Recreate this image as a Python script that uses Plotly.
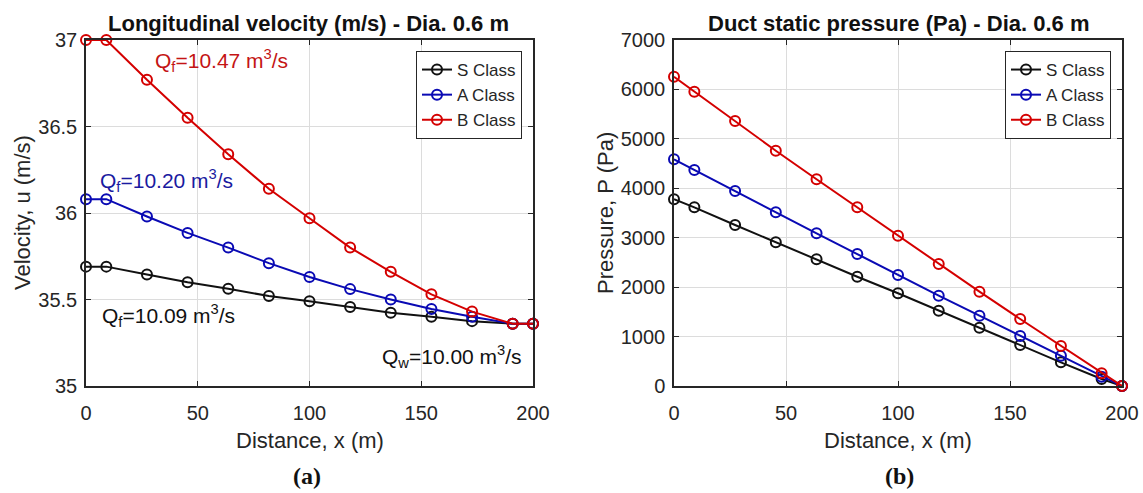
import plotly.graph_objects as go

# ---------------- data ----------------
distance = [0, 9.09, 27.27, 45.45, 63.64, 81.82, 100, 118.18, 136.36, 154.55, 172.73, 190.91, 200]

vel_S = [35.69, 35.69, 35.645, 35.60, 35.562, 35.52, 35.49, 35.456, 35.423, 35.40, 35.375, 35.36, 35.36]
vel_A = [36.08, 36.08, 35.98, 35.885, 35.80, 35.71, 35.63, 35.56, 35.50, 35.445, 35.40, 35.36, 35.36]
vel_B = [37.0, 37.0, 36.77, 36.55, 36.34, 36.14, 35.97, 35.80, 35.66, 35.53, 35.43, 35.36, 35.36]

pres_S = [3780, 3615, 3257, 2907, 2563, 2211, 1876, 1524, 1180, 829, 479, 142, 0]
pres_A = [4586, 4370, 3945, 3514, 3089, 2670, 2246, 1827, 1422, 1012, 614, 189, 0]
pres_B = [6257, 5954, 5361, 4760, 4182, 3615, 3041, 2468, 1908, 1355, 809, 257, 0]

series_names = ["S Class", "A Class", "B Class"]
series_colors = ["#111111", "#0a0ab4", "#d40000"]

titles = ["Longitudinal velocity (m/s) - Dia. 0.6 m", "Duct static pressure (Pa) - Dia. 0.6 m"]
x_title = "Distance, x (m)"
y_titles = ["Velocity, u (m/s)", "Pressure, P (Pa)"]
panel_labels = ["(a)", "(b)"]

ann_text = ["Q<sub>f</sub>=10.47 m<sup>3</sup>/s", "Q<sub>f</sub>=10.20 m<sup>3</sup>/s",
            "Q<sub>f</sub>=10.09 m<sup>3</sup>/s", "Q<sub>w</sub>=10.00 m<sup>3</sup>/s"]

# ---------------- figure ----------------
W, H = 1143, 493
FONT = "Arial, Liberation Sans, sans-serif"
AXC = "#262626"

fig = go.Figure()

vel = [vel_S, vel_A, vel_B]
pres = [pres_S, pres_A, pres_B]
for i in range(3):
    fig.add_trace(go.Scatter(
        x=distance, y=vel[i], name=series_names[i], mode="lines+markers",
        line=dict(color=series_colors[i], width=2),
        marker=dict(symbol="circle-open", size=10, color=series_colors[i], line=dict(width=2)),
        xaxis="x", yaxis="y", legend="legend", cliponaxis=False))
for i in range(3):
    fig.add_trace(go.Scatter(
        x=distance, y=pres[i], name=series_names[i], mode="lines+markers",
        line=dict(color=series_colors[i], width=2),
        marker=dict(symbol="circle-open", size=10, color=series_colors[i], line=dict(width=2)),
        xaxis="x2", yaxis="y2", legend="legend2", cliponaxis=False))


def px(v):
    return v / W


def py(v):
    return 1 - v / H


axis_common = dict(
    showline=True, linecolor=AXC, linewidth=1.5, mirror="ticks",
    ticks="inside", ticklen=5, tickcolor=AXC, tickwidth=1,
    showgrid=True, gridcolor="#dcdcdc", gridwidth=1, zeroline=False,
    automargin=False,
    tickfont=dict(family=FONT, size=20, color=AXC),
)

ydom = [py(386), py(40)]
legend_common = dict(xanchor="right", yanchor="top",
                     bgcolor="white", bordercolor=AXC, borderwidth=1,
                     font=dict(family=FONT, size=17, color=AXC), itemwidth=30,
                     tracegroupgap=0)
fig.update_layout(
    width=W, height=H, autosize=False,
    margin=dict(l=0, r=0, t=0, b=0, autoexpand=False),
    paper_bgcolor="white", plot_bgcolor="white",
    font=dict(family=FONT, color=AXC),
    xaxis=dict(domain=[px(86), px(533)], range=[0, 200], dtick=50, anchor="y",
               ticklabelstandoff=8, **axis_common),
    yaxis=dict(domain=ydom, range=[35, 37], dtick=0.5, anchor="x",
               ticklabelstandoff=3, **axis_common),
    xaxis2=dict(domain=[px(674), px(1122)], range=[0, 200], dtick=50, anchor="y2",
                ticklabelstandoff=8, **axis_common),
    yaxis2=dict(domain=ydom, range=[0, 7000], dtick=1000, anchor="x2",
                ticklabelstandoff=3, **axis_common),
    legend=dict(x=px(522), y=py(51), **legend_common),
    legend2=dict(x=px(1111), y=py(51), **legend_common),
    showlegend=True,
)

annotations = []
# titles
for cx, t in zip([308, 898], titles):
    annotations.append(dict(text="<b>" + t + "</b>", x=px(cx), y=py(23), xref="paper", yref="paper",
                            xanchor="center", yanchor="middle", showarrow=False,
                            font=dict(family=FONT, size=22, color="#111111")))
# x titles
for cx in [310, 898]:
    annotations.append(dict(text=x_title, x=px(cx), y=py(440), xref="paper", yref="paper",
                            xanchor="center", yanchor="middle", showarrow=False,
                            font=dict(family=FONT, size=22, color=AXC)))
# y titles
for cx, t in zip([22, 605], y_titles):
    annotations.append(dict(text=t, x=px(cx), y=py(213), xref="paper", yref="paper",
                            xanchor="center", yanchor="middle", showarrow=False, textangle=-90,
                            font=dict(family=FONT, size=22, color=AXC)))
# panel labels
for cx, t in zip([307, 899], panel_labels):
    annotations.append(dict(text="<b>" + t + "</b>", x=px(cx), y=py(476), xref="paper", yref="paper",
                            xanchor="center", yanchor="middle", showarrow=False,
                            font=dict(family="Liberation Serif, Times New Roman, serif", size=24, color="#111111")))
# flow annotations (data coordinates of left panel)
annotations.append(dict(text=ann_text[0], x=30, y=36.88, xref="x", yref="y", xanchor="left",
                        yanchor="middle", showarrow=False, font=dict(family=FONT, size=21, color="#c41414")))
annotations.append(dict(text=ann_text[1], x=5.4, y=36.19, xref="x", yref="y", xanchor="left",
                        yanchor="middle", showarrow=False, font=dict(family=FONT, size=21, color="#1a1aa0")))
annotations.append(dict(text=ann_text[2], x=6.3, y=35.41, xref="x", yref="y", xanchor="left",
                        yanchor="middle", showarrow=False, font=dict(family=FONT, size=21, color="#111111")))
annotations.append(dict(text=ann_text[3], x=196, y=35.17, xref="x", yref="y", xanchor="right",
                        yanchor="middle", showarrow=False, font=dict(family=FONT, size=21, color="#111111")))

fig.update_layout(annotations=annotations)

fig.write_html("out.html")
